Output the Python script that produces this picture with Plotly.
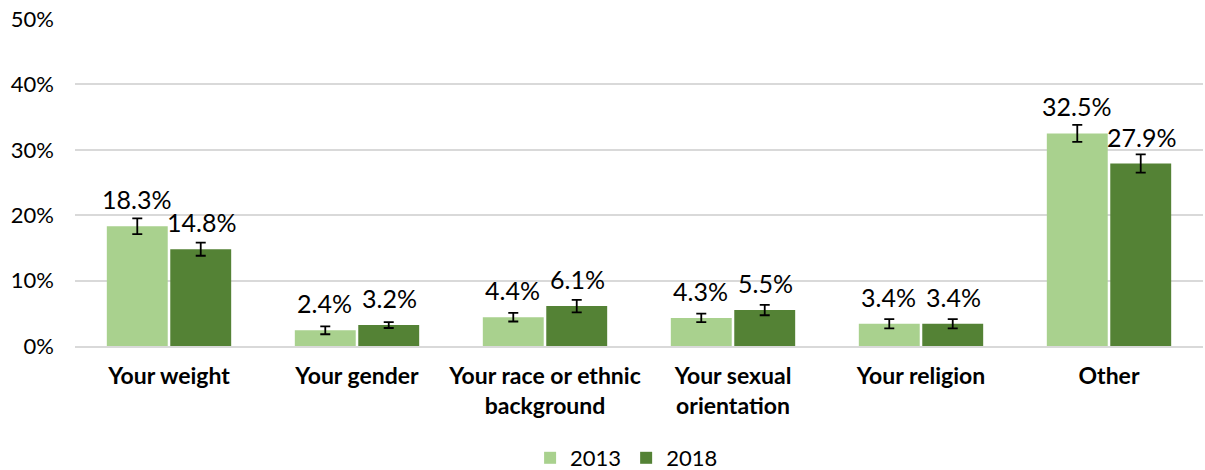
import plotly.graph_objects as go

categories = ["Your weight", "Your gender", "Your race or ethnic<br>background",
              "Your sexual<br>orientation", "Your religion", "Other"]
years = ["2013", "2018"]
values_2013 = [18.3, 2.4, 4.4, 4.3, 3.4, 32.5]
values_2018 = [14.8, 3.2, 6.1, 5.5, 3.4, 27.9]
err_2013 = [1.2, 0.6, 0.65, 0.65, 0.7, 1.3]
err_2018 = [1.0, 0.45, 0.95, 0.8, 0.7, 1.4]
ytick_vals = [0, 10, 20, 30, 40, 50]
ytick_text = ["0%", "10%", "20%", "30%", "40%", "50%"]

colors = ["#a9d18e", "#548235"]
FONT = "Lato, Calibri, Carlito, 'Liberation Sans', sans-serif"

fig = go.Figure()
for name, vals, errs, col in zip(years, [values_2013, values_2018],
                                 [err_2013, err_2018], colors):
    fig.add_trace(go.Bar(
        name=name, x=categories, y=vals, marker_color=col,
        marker_line_width=0,
        error_y=dict(type="data", array=errs, visible=True,
                     color="black", thickness=1.8, width=5),
    ))

# data labels
for i, (vals, shift) in enumerate(zip([values_2013, values_2018], [-32.5, 32.5])):
    for c, v in zip(categories, vals):
        fig.add_annotation(x=c, y=v, text=f"{v:.1f}%", showarrow=False,
                           xshift=shift, yshift=27, yanchor="middle",
                           font=dict(family=FONT, size=25, color="black"))

fig.update_layout(
    width=1205, height=470,
    margin=dict(l=75, r=2, t=19, b=124, autoexpand=False),
    paper_bgcolor="white", plot_bgcolor="white",
    barmode="group", bargap=0.325, bargroupgap=0.04,
    font=dict(family=FONT, color="#000000"),
    showlegend=True,
    legend=dict(orientation="h", x=0.489, xanchor="center", y=-0.3425,
                yanchor="middle", font=dict(family=FONT, size=22, color="#000000"),
                itemwidth=30, traceorder="normal"),
)
fig.update_xaxes(
    tickfont=dict(family=FONT, size=23, color="#000000", weight="bold"),
    showline=True, linecolor="#d9d9d9", linewidth=1.5,
    ticks="", ticklabelstandoff=9, automargin=False,
)
fig.update_yaxes(
    range=[0, 50], tickvals=ytick_vals, ticktext=ytick_text,
    tickfont=dict(family=FONT, size=22, color="#000000"),
    showgrid=True, gridcolor="#d9d9d9", gridwidth=1.5,
    zeroline=False, ticklabelstandoff=20, automargin=False,
)
fig.write_html("out.html", config={"displayModeBar": False},
               post_script="document.body.style.margin='0';document.body.style.overflow='hidden';")
